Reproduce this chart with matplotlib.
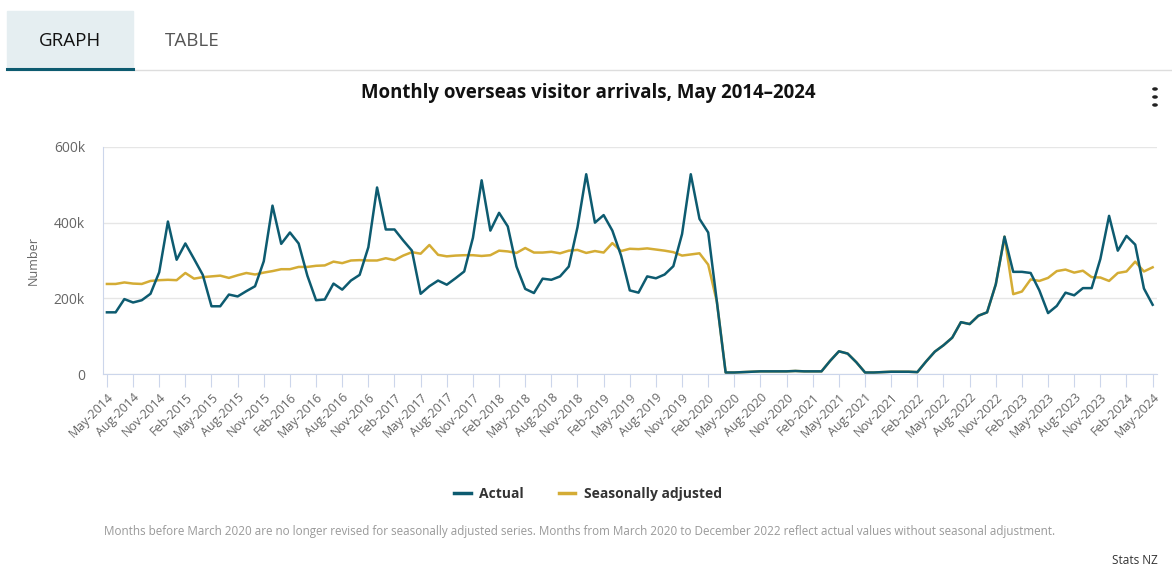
import matplotlib.pyplot as plt
import matplotlib.patches as mpatches
from matplotlib.lines import Line2D
import pandas as pd

plt.rcParams['font.family'] = ['Open Sans', 'DejaVu Sans']

# Monthly values, May 2014 .. May 2024 (thousands)
actual_k = [
    163, 163, 198, 189, 195, 212, 269, 403, 302, 345, 304, 262,
    179, 179, 210, 205, 219, 232, 298, 445, 344, 374, 345, 260,
    195, 197, 239, 223, 247, 262, 335, 493, 382, 382, 353, 326,
    212, 232, 247, 236, 253, 271, 360, 512, 379, 426, 390, 284,
    225, 214, 252, 249, 258, 284, 388, 528, 400, 420, 379, 313,
    221, 215, 258, 253, 263, 285, 370, 528, 410, 374, 190, 4,
    4, 5, 6, 7, 7, 7, 7, 8, 7, 7, 7, 35,
    60, 54, 31, 4, 4, 5, 6, 6, 6, 5, 33, 59,
    76, 96, 137, 132, 154, 163, 237, 363, 270, 270, 267, 221,
    161, 180, 215, 208, 227, 227, 304, 418, 326, 365, 342, 226,
    183,
]
seasonal_k = [
    238, 238, 242, 239, 238, 246, 248, 249, 248, 267, 252, 256,
    258, 260, 254, 261, 267, 263, 268, 272, 277, 277, 283, 283,
    286, 287, 297, 293, 300, 301, 300, 300, 306, 301, 313, 322,
    318, 341, 315, 311, 313, 314, 314, 312, 314, 326, 324, 320,
    333, 321, 321, 323, 319, 326, 328, 320, 325, 321, 346, 325,
    331, 330, 332, 329, 326, 322, 313, 316, 319, 289, 190, 4,
    4, 5, 6, 7, 7, 7, 7, 8, 7, 7, 7, 35,
    60, 54, 31, 4, 4, 5, 6, 6, 6, 5, 33, 59,
    76, 96, 137, 132, 154, 163, 237, 363, 211, 218, 250, 246,
    254, 272, 276, 268, 273, 256, 255, 246, 267, 271, 297, 271,
    282,
]
months = pd.date_range('2014-05-01', '2024-05-01', freq='MS')
tick_labels = [m.strftime('%b-%Y') for m in months[::3]]

title = 'Monthly overseas visitor arrivals, May 2014\u20132024'
footnote = ('Months before March 2020 are no longer revised for seasonally adjusted series. '
            'Months from March 2020 to December 2022 reflect actual values without seasonal adjustment.')

TEAL = '#0d5b70'
GOLD = '#d4ac35'
GRID = '#e6e6e6'
AXIS = '#ccd6eb'
LABEL = '#666666'

fig = plt.figure(figsize=(11.72, 5.75), dpi=100)
fig.patch.set_facecolor('white')

# tab header
fig.patches.append(mpatches.Rectangle((7 / 1172, 1 - 68 / 575), 126 / 1172, 57 / 575,
                                      transform=fig.transFigure, color='#e5eef1', zorder=0))
fig.add_artist(Line2D([7 / 1172, 1], [1 - 70 / 575] * 2, color='#dddddd', lw=1))
fig.add_artist(Line2D([7 / 1172, 133 / 1172], [1 - 68.5 / 575] * 2, color='#0d5b70', lw=2.2))
fig.text(70 / 1172, 1 - 41 / 575, 'GRAPH', ha='center', va='center', fontsize=13.5, color='#111111')
fig.text(192 / 1172, 1 - 41 / 575, 'TABLE', ha='center', va='center', fontsize=13.5, color='#555555')

fig.text(588 / 1172, 1 - 93 / 575, title, ha='center', va='center', fontsize=13.4,
         fontweight='bold', color='#111111')
for dy in (89, 97, 105):
    fig.add_artist(mpatches.Circle((1155 / 1172, 1 - dy / 575), 0.0018,
                                   transform=fig.transFigure, color='#222222'))

ax = fig.add_axes([103 / 1172, 1 - 374 / 575, 1054 / 1172, 227 / 575])
x = range(len(months))
ax.plot(x, [v * 1000 for v in actual_k], color=TEAL, lw=1.8, zorder=3, label='Actual')
ax.plot(x, [v * 1000 for v in seasonal_k], color=GOLD, lw=1.8, zorder=2, label='Seasonally adjusted')

ax.set_xlim(-0.45, len(months) - 1 + 0.5)
ax.set_ylim(0, 600000)
ax.set_yticks([0, 200000, 400000, 600000])
ax.set_yticklabels(['0', '200k', '400k', '600k'])
ax.set_xticks(list(x)[::3])
ax.set_xticklabels(tick_labels, rotation=45, ha='right', rotation_mode='anchor')
ax.grid(axis='y', color=GRID, lw=1)
ax.set_axisbelow(True)
for s in ('top', 'right'):
    ax.spines[s].set_visible(False)
ax.spines['left'].set_color(AXIS)
ax.spines['bottom'].set_color(AXIS)
ax.tick_params(axis='x', length=9, color=AXIS, labelsize=9, labelcolor=LABEL, pad=3)
ax.tick_params(axis='y', length=0, labelsize=10, labelcolor=LABEL, pad=13)
ax.set_ylabel('Number', fontsize=9, color=LABEL, labelpad=10)

handles = [Line2D([], [], color=TEAL, lw=2.5), Line2D([], [], color=GOLD, lw=2.5)]
leg = fig.legend(handles, ['Actual', 'Seasonally adjusted'], loc='center',
                 bbox_to_anchor=(588 / 1172, 1 - 494 / 575), ncol=2, frameon=False,
                 handlelength=1.2, handletextpad=0.6, columnspacing=2.5,
                 prop={'weight': 'bold', 'size': 10})
for t in leg.get_texts():
    t.set_color('#333333')

fig.text(104 / 1172, 1 - 531 / 575, footnote, ha='left', va='center', fontsize=8.4, color='#999999')
fig.text(1158 / 1172, 1 - 560 / 575, 'Stats NZ', ha='right', va='center', fontsize=8.5, color='#333333')

fig.savefig('out.png', dpi=100, facecolor='white')
